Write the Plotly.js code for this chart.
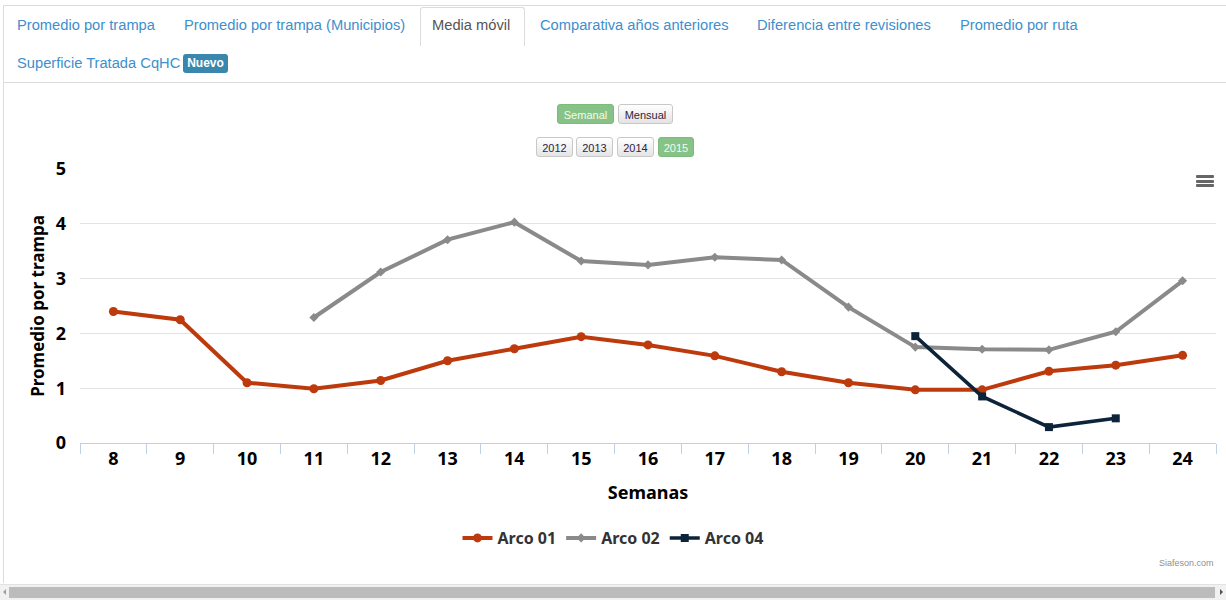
<!DOCTYPE html>
<html>
<head>
<meta charset="utf-8">
<script src="https://cdn.plot.ly/plotly-3.0.1.min.js"></script>
<style>
  html, body { margin:0; padding:0; }
  body { width:1226px; height:603px; overflow:hidden; background:#fff; position:relative;
         font-family:"Liberation Sans", Arial, sans-serif; }
  #chart { position:absolute; left:0; top:0; width:1226px; height:603px; z-index:1; }
  .topline { position:absolute; left:3px; top:5px; width:1223px; height:0; border-top:1px solid #dcdcdc; z-index:2; }
  .leftline { position:absolute; left:3px; top:5px; width:0; height:578px; border-left:1px solid #dcdcdc; z-index:2; }
  .tabline { position:absolute; left:3px; top:82px; width:1223px; height:0; border-top:1px solid #dcdcdc; z-index:2; }
  .tab { position:absolute; font-size:14.7px; color:#3d8fcd; line-height:18px; z-index:3; white-space:nowrap; }
  .active { position:absolute; left:420px; top:7px; width:103px; height:38px; border:1px solid #dcdcdc; border-bottom:none;
            border-radius:3px 3px 0 0; background:#fff; z-index:2; }
  .badge { position:absolute; left:183px; top:54px; width:45px; height:19px; background:#3a87ad; color:#fff;
           font-weight:bold; font-size:12px; line-height:19px; text-align:center; border-radius:3px; z-index:3; }
  .btn { position:absolute; height:20px; line-height:20px; text-align:center; font-size:11px; border-radius:3px;
         font-family:"Liberation Sans Narrow", "Liberation Sans", Arial, sans-serif; z-index:3; box-sizing:border-box; }
  .btn.on { background:#87c387; color:#f2faf2; border:1px solid #7dbb7d; }
  .btn.off { background:linear-gradient(#ffffff,#e4e4e4); color:#2f2440; border:1px solid #c8c8c8; }
  .burger { position:absolute; left:1196px; top:175px; width:18px; height:12px; z-index:3; }
  .burger div { height:3px; background:#666; margin-bottom:1.5px; border-radius:1px; }
  .sb { position:absolute; left:0; top:584px; width:1226px; height:15px; background:#f1f1f1; border-top:1px solid #e2e2e2; z-index:3; }
  .sbthumb { position:absolute; left:9px; top:2px; width:1206px; height:11px; background:#bcbcbc; }
  .arrL { position:absolute; left:3px; top:4px; width:0; height:0; border-top:3px solid transparent; border-bottom:3px solid transparent; border-right:3px solid #a0a0a0; }
  .arrR { position:absolute; right:3px; top:4px; width:0; height:0; border-top:3px solid transparent; border-bottom:3px solid transparent; border-left:3px solid #505050; }
</style>
</head>
<body>
<div class="topline"></div>
<div class="leftline"></div>
<div class="active"></div>
<div class="tabline"></div>
<span class="tab" style="left:17px;top:16px;">Promedio por trampa</span>
<span class="tab" style="left:184px;top:16px;">Promedio por trampa (Municipios)</span>
<span class="tab" style="left:432px;top:16px;color:#555;">Media móvil</span>
<span class="tab" style="left:540px;top:16px;">Comparativa años anteriores</span>
<span class="tab" style="left:757px;top:16px;">Diferencia entre revisiones</span>
<span class="tab" style="left:960px;top:16px;">Promedio por ruta</span>
<span class="tab" style="left:17px;top:54px;">Superficie Tratada CqHC</span>
<span class="badge">Nuevo</span>

<div class="btn on" style="left:557px;top:104px;width:57px;">Semanal</div>
<div class="btn off" style="left:618px;top:104px;width:55px;">Mensual</div>
<div class="btn off" style="left:536px;top:137px;width:37px;">2012</div>
<div class="btn off" style="left:576px;top:137px;width:37px;">2013</div>
<div class="btn off" style="left:617px;top:137px;width:37px;">2014</div>
<div class="btn on" style="left:658px;top:137px;width:36px;">2015</div>

<div class="burger"><div></div><div></div><div></div></div>

<div class="sb"><div class="arrL"></div><div class="sbthumb"></div><div class="arrR"></div></div>

<div id="chart"></div>

<script>
// ---- data ----
var weeks = ['8','9','10','11','12','13','14','15','16','17','18','19','20','21','22','23','24'];
var arco01 = [2.40, 2.25, 1.10, 0.99, 1.14, 1.50, 1.72, 1.94, 1.79, 1.59, 1.30, 1.10, 0.97, 0.97, 1.31, 1.42, 1.60];
var arco02 = [null, null, null, 2.29, 3.12, 3.71, 4.03, 3.32, 3.25, 3.39, 3.34, 2.48, 1.75, 1.71, 1.70, 2.03, 2.96];
var arco04 = [null, null, null, null, null, null, null, null, null, null, null, null, 1.95, 0.85, 0.29, 0.45, null];
var seriesNames = ['Arco 01', 'Arco 02', 'Arco 04'];
var yTicks = [0, 1, 2, 3, 4, 5];
var xTitle = 'Semanas';
var yTitle = 'Promedio por trampa';
var credits = 'Siafeson.com';

var FONT = '"Noto Sans", "DejaVu Sans", sans-serif';

var traces = [
  { x: weeks, y: arco01, name: seriesNames[0], type: 'scatter', mode: 'lines+markers',
    line: { color: '#bd3a0c', width: 4 }, marker: { symbol: 'circle', size: 9, color: '#bd3a0c' }, connectgaps: false },
  { x: weeks, y: arco02, name: seriesNames[1], type: 'scatter', mode: 'lines+markers',
    line: { color: '#8a8a8a', width: 4 }, marker: { symbol: 'diamond', size: 7, color: '#8a8a8a' }, connectgaps: false },
  { x: weeks, y: arco04, name: seriesNames[2], type: 'scatter', mode: 'lines+markers',
    line: { color: '#0d233a', width: 3.5 }, marker: { symbol: 'square', size: 8, color: '#0d233a' }, connectgaps: false }
];

var layout = {
  width: 1226, height: 603,
  paper_bgcolor: 'rgba(0,0,0,0)', plot_bgcolor: 'rgba(0,0,0,0)',
  margin: { l: 80, r: 10, t: 168.5, b: 159.5, pad: 0 },
  showlegend: true,
  font: { family: FONT, color: '#000' },
  xaxis: {
    type: 'category', categoryorder: 'array', categoryarray: weeks,
    range: [-0.5, weeks.length - 0.5],
    showline: true, linecolor: '#c0d0e0', linewidth: 1,
    ticks: 'outside', tickson: 'boundaries', ticklen: 10, tickcolor: '#c0d0e0', tickwidth: 1,
    ticklabelstandoff: -1,
    showgrid: false, zeroline: false,
    tickfont: { family: FONT, size: 18, color: '#000', weight: 'bold' },
    title: { text: xTitle, font: { family: FONT, size: 18, color: '#000', weight: 'bold' }, standoff: 17 },
    fixedrange: true
  },
  yaxis: {
    range: [0, 5], tickvals: yTicks, ticktext: yTicks.map(String),
    showgrid: true, gridcolor: '#e3e3e3', gridwidth: 1, zeroline: false, showline: false,
    ticks: '', ticklabelstandoff: 13,
    tickfont: { family: FONT, size: 18, color: '#000', weight: 'bold' },
    title: { text: yTitle, font: { family: FONT, size: 17, color: '#000', weight: 'bold' }, standoff: 6 },
    fixedrange: true
  },
  legend: {
    orientation: 'h', xref: 'container', yref: 'container',
    x: 0.5, xanchor: 'center', y: 1 - 538 / 603, yanchor: 'middle',
    font: { family: FONT, size: 16, color: '#333', weight: 'bold' },
    bgcolor: 'rgba(0,0,0,0)', itemwidth: 30, tracegroupgap: 0
  },
  annotations: [
    { text: credits, xref: 'paper', yref: 'paper', x: 1, y: (443.5 - 564) / 275, xanchor: 'right', yanchor: 'middle',
      showarrow: false, font: { family: '"Liberation Sans Narrow", "Liberation Sans", sans-serif', size: 9, color: '#909090' } }
  ]
};

Plotly.newPlot('chart', traces, layout, { displayModeBar: false, staticPlot: true });
</script>
</body>
</html>
